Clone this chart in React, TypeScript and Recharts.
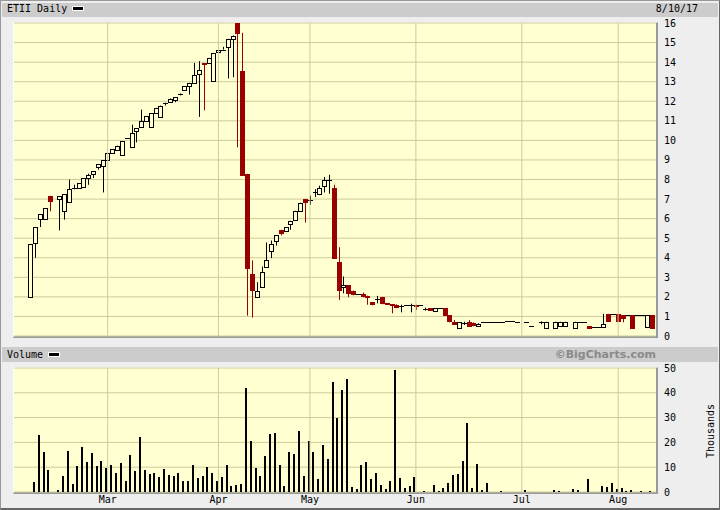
import React from "react";
import {
  Bar,
  CartesianGrid,
  ComposedChart,
  ReferenceLine,
  XAxis,
  YAxis,
} from "recharts";

// daily OHLC, Feb 6 – Aug 10 2017, one slot per trading day (null = no trade)
const OPEN = [
  2.0, 4.75, 5.97, 5.97, 7.17, null, 7.0, 6.38, 6.85, 7.56,
  7.56, 7.61, 8.07, 8.26, 8.64, 8.67, 8.98, 9.35, 9.52, 9.25,
  10.1, 9.66, 10.46, 10.68, 10.97, 10.68, 11.4, 11.2, 11.93, 11.97,
  12.08, 12.37, 12.6, 12.77, 12.94, 13.38, 13.95, 13.96, 13.04, 14.52,
  14.64, 14.76, 15.19, 16.0, 13.53, 8.29, 3.17, 1.98, 2.52, 3.55,
  4.37, 4.88, 5.43, 5.39, 5.72, 5.94, 6.38, 7.01, 6.96, 7.34,
  7.26, 7.67, 7.95, 7.59, 3.77, 2.49, 2.61, 2.32, 2.13, 2.15,
  2.06, 1.74, 1.88, 2.0, 1.67, 1.64, 1.6, 1.54, 1.6, 1.6,
  1.6, 1.6, 1.37, 1.43, 1.3, 1.43, 1.43, 1.06, 0.73, 0.39,
  0.65, 0.7, 0.65, 0.5, 0.73, 0.74, 0.74, 0.72, 0.71, 0.76,
  0.76, 0.73, null, 0.73, 0.51, null, 0.73, 0.39, null, 0.39,
  0.51, 0.51, null, 0.39, 0.73, 0.73, 0.51, 0.48, 0.48, 0.48,
  1.13, 1.13, 1.13, 1.06, 1.06, 1.06, 1.06, 1.06, 0.48, 1.06,
];
const HIGH = [
  4.7, 5.57, 6.23, 6.54, 7.17, null, 7.15, 7.26, 8.0, 7.73,
  7.82, 8.07, 8.3, 8.43, 8.79, 9.0, 9.35, 9.56, 9.73, 9.97,
  10.12, 10.8, 10.63, 11.57, 11.25, 11.4, 11.66, 11.78, 11.93, 12.14,
  12.2, 12.4, 12.78, 12.94, 13.96, 14.05, 13.95, 14.22, 14.47, 14.63,
  14.78, 15.19, 15.36, 16.0, 15.5, 8.29, 3.86, 2.75, 3.55, 4.78,
  4.88, 5.16, 5.43, 5.57, 5.89, 6.4, 6.81, 7.01, 7.18, 7.51,
  7.68, 8.13, 8.24, 7.73, 4.54, 3.04, 2.61, 2.32, 2.13, 2.22,
  2.06, 1.74, 2.05, 2.0, 1.67, 1.64, 1.62, 1.6, 1.6, 1.65,
  1.6, 1.6, 1.45, 1.43, 1.43, 1.43, 1.43, 1.06, 0.82, 0.7,
  0.73, 0.82, 0.7, 0.65, 0.73, 0.74, 0.74, 0.72, 0.71, 0.77,
  0.77, 0.73, null, 0.73, 0.51, null, 0.75, 0.73, null, 0.73,
  0.73, 0.73, null, 0.73, 0.73, 0.73, 0.51, 0.48, 0.48, 1.13,
  1.13, 1.13, 1.13, 1.06, 1.06, 1.06, 1.06, 1.06, 1.06, 1.06,
];
const LOW = [
  2.0, 4.0, 5.57, 5.97, 6.37, null, 5.4, 5.95, 6.85, 7.5,
  7.56, 7.61, 7.73, 8.07, 8.5, 7.34, 8.98, 9.35, 9.52, 9.25,
  10.08, 9.66, 9.9, 10.68, 10.97, 10.68, 11.4, 11.2, 11.78, 11.97,
  11.95, 12.3, 12.55, 12.34, 12.94, 11.2, 11.54, 13.96, 13.04, 14.52,
  14.64, 13.16, 13.23, 9.64, 8.19, 1.04, 0.94, 1.98, 2.52, 3.55,
  3.98, 4.62, 5.14, 5.39, 5.43, 5.94, 6.38, 5.8, 6.71, 7.1,
  7.26, 7.34, 7.27, 3.94, 1.84, 2.18, 1.98, 2.08, 2.13, 1.98,
  1.6, 1.57, 1.67, 1.62, 1.6, 1.16, 1.42, 1.21, 1.6, 1.21,
  1.33, 1.6, 1.3, 1.3, 1.3, 1.43, 1.02, 0.7, 0.56, 0.39,
  0.56, 0.48, 0.5, 0.5, 0.73, 0.74, 0.74, 0.72, 0.71, 0.74,
  0.74, 0.73, null, 0.73, 0.51, null, 0.6, 0.39, null, 0.39,
  0.51, 0.51, null, 0.39, 0.73, 0.73, 0.37, 0.48, 0.48, 0.48,
  0.73, 1.13, 0.73, 0.7, 1.06, 0.38, 1.06, 1.06, 0.48, 0.38,
];
const CLOSE = [
  4.7, 5.57, 6.23, 6.54, 6.83, null, 7.15, 7.26, 7.51, 7.56,
  7.82, 8.07, 8.24, 8.43, 8.79, 9.0, 9.35, 9.56, 9.73, 9.97,
  10.1, 10.38, 10.63, 10.99, 11.25, 11.4, 11.66, 11.78, 11.93, 12.14,
  12.2, 12.37, 12.78, 12.94, 13.36, 13.6, 13.92, 14.22, 14.47, 14.63,
  14.64, 15.19, 15.36, 15.43, 8.19, 3.43, 2.32, 2.3, 3.26, 3.89,
  4.71, 5.16, 5.22, 5.57, 5.89, 6.4, 6.81, 6.79, 6.96, 7.34,
  7.56, 7.99, 7.95, 3.94, 2.32, 2.63, 2.15, 2.08, 2.13, 1.98,
  1.95, 1.57, 1.88, 1.62, 1.6, 1.58, 1.42, 1.54, 1.6, 1.6,
  1.48, 1.6, 1.37, 1.3, 1.43, 1.43, 1.02, 0.7, 0.56, 0.7,
  0.65, 0.48, 0.52, 0.62, 0.73, 0.74, 0.74, 0.72, 0.71, 0.76,
  0.76, 0.73, null, 0.73, 0.51, null, 0.73, 0.73, null, 0.73,
  0.73, 0.73, null, 0.73, 0.73, 0.73, 0.37, 0.48, 0.48, 0.61,
  0.73, 1.13, 0.73, 0.89, 1.06, 0.38, 1.06, 1.06, 1.06, 0.38,
];
// thousands of shares
const VOLUME = [
  0, 4.2, 22.9, 16, 8.7, null, 0.9, 6.6, 16.4, 3.4,
  10.3, 18, 11.9, 15.6, 10.3, 12.7, 9.5, 10.7, 7.8, 11.5,
  4.6, 14.8, 8.3, 22, 8.7, 7.4, 7.8, 6.2, 9.1, 7,
  6.6, 7.8, 4.6, 4.6, 10.7, 5.8, 6.6, 9.9, 7.8, 4.6,
  6.2, 10.7, 2.6, 3.0, 3.4, 42, 20.4, 9.5, 6.6, 14.4,
  23.3, 23.7, 10.7, 2.6, 16, 15.2, 24.5, 6.6, 20.4, 16,
  5.4, 18.8, 13.5, 44.4, 29.8, 41.2, 45.6, 2.2, 1.4, 10.7,
  11.9, 5.4, 7.8, 3.0, 1.4, 4.6, 49.3, 5.8, 1.8, 2.6,
  6.2, 0, 0.5, 0, 3.0, 0.5, 1.8, 3.8, 7, 7.4,
  12.3, 27.8, 1.8, 11.1, 0.9, 3.8, 0, 0, 0.5, 0,
  0, 0, null, 0.9, 0, null, 0, 0, null, 0.9,
  0.5, 0, null, 1.4, 0.9, 0, 5.4, 0, 0, 2.6,
  2.2, 3.8, 1.4, 1.8, 0.5, 0.9, 0, 0.5, 0, 0.5,
];

// first trading day of each month (slot index) and its label
const MONTH_TICKS = [16, 39, 58, 80, 102, 122];
const MONTH_LABELS = ["Mar", "Apr", "May", "Jun", "Jul", "Aug"];
const PRICE_TICKS = [0, 1, 2, 3, 4, 5, 6, 7, 8, 9, 10, 11, 12, 13, 14, 15, 16];
const VOLUME_TICKS = [0, 10, 20, 30, 40, 50];

const data = OPEN.map((open, i) => ({
  day: i,
  open,
  high: HIGH[i],
  low: LOW[i],
  close: CLOSE[i],
  vol: VOLUME[i],
}));

const MONO = "'DejaVu Sans Mono', monospace";
const RED = "#990000";
const GRID = "#cccc99";
const PLOT_BG = "#ffffd2";
const PANEL = "#cccccc";
const X_DOMAIN: [number, number] = [-3.45, 129.86];

function Candle(props: any) {
  const { x, y, width, height, payload } = props;
  if (!payload || payload.high == null || !height) return <g />;
  const k = height / payload.high; // px per dollar
  const py = (v: number) => y + (payload.high - v) * k;
  const cx = Math.round(x + width / 2) + 0.5;
  const yH = py(payload.high);
  const yL = py(payload.low);
  const yO = Math.round(py(payload.open));
  const yC = Math.round(py(payload.close));
  const up = payload.close > payload.open;
  const down = payload.close < payload.open;
  const color = down ? RED : "#000";
  return (
    <g>
      {yL - yH > 0.5 && (
        <line x1={cx} x2={cx} y1={yH} y2={yL} stroke={color} strokeWidth={1} />
      )}
      {up && (
        <rect
          x={cx - 2}
          y={yC + 0.5}
          width={4}
          height={Math.max(yO - yC, 1)}
          fill={PLOT_BG}
          stroke="#000"
          strokeWidth={1}
        />
      )}
      {down && (
        <rect
          x={cx - 2.5}
          y={yO}
          width={5}
          height={Math.max(yC - yO, 2)}
          fill={RED}
        />
      )}
      {!up && !down && (
        <line x1={cx - 2.5} x2={cx + 2.5} y1={yO + 0.5} y2={yO + 0.5} stroke="#000" strokeWidth={1} />
      )}
    </g>
  );
}

function VolumeBar(props: any) {
  const { x, y, width, height } = props;
  if (!height || height <= 0) return <g />;
  const c = Math.round(x + width / 2);
  const top = Math.round(y);
  const bottom = Math.round(y + height);
  return <rect x={c - 2} y={top} width={2} height={bottom - top} fill="#000" />;
}

function Swatch({ left, top }: { left: number; top: number }) {
  return (
    <div
      style={{
        position: "absolute",
        left,
        top,
        width: 10,
        height: 3,
        background: "#000",
        border: "1px solid #fff",
      }}
    />
  );
}

const label: React.CSSProperties = {
  position: "absolute",
  fontFamily: MONO,
  fontSize: 10,
  lineHeight: "10px",
  color: "#000",
  whiteSpace: "nowrap",
};

const frame = (top: number, height: number): React.CSSProperties => ({
  position: "absolute",
  left: 13,
  top,
  width: 642,
  height,
  borderTop: "1px solid #fff",
  borderLeft: "1px solid #fff",
  borderRight: "2px solid #9a9a9a",
  borderBottom: "2px solid #9a9a9a",
});

const tickStyle = { fill: "#000", fontSize: 10, fontFamily: MONO };

export default function App() {
  return (
    <div
      style={{
        position: "absolute",
        left: 0,
        top: 0,
        width: 720,
        height: 510,
        background: "#eeeeee",
        overflow: "hidden",
      }}
    >
      <div
        style={{
          position: "absolute",
          inset: 0,
          borderTop: "1px solid #999",
          borderLeft: "1px solid #999",
          borderRight: "1px solid #666",
          borderBottom: "2px solid #666",
        }}
      />
      {/* price header */}
      <div style={{ position: "absolute", left: 2, top: 3, width: 716, height: 14, background: PANEL }} />
      <div style={{ ...label, left: 7, top: 3.5 }}>ETII Daily</div>
      <Swatch left={72} top={6} />
      <div style={{ ...label, left: 598, width: 100, textAlign: "right", top: 3.5 }}>8/10/17</div>

      <div style={frame(22, 313)} />
      <div style={{ position: "absolute", left: 0, top: 0 }}>
        <ComposedChart
          width={720}
          height={345}
          data={data}
          margin={{ top: 23, right: 14, bottom: 9, left: 14 }}
        >
          <CartesianGrid stroke={GRID} vertical={false} fill={PLOT_BG} />
          <XAxis type="number" dataKey="day" domain={X_DOMAIN} allowDataOverflow hide />
          <YAxis
            orientation="right"
            width={50}
            domain={[0, 16]}
            ticks={PRICE_TICKS}
            interval={0}
            allowDataOverflow
            axisLine={false}
            tickLine={false}
            tick={tickStyle}
          />
          {MONTH_TICKS.map((t) => (
            <ReferenceLine key={t} x={t} stroke={GRID} strokeWidth={1} />
          ))}
          <Bar dataKey="high" barSize={5} shape={Candle} isAnimationActive={false} />
        </ComposedChart>
      </div>

      {/* volume header */}
      <div style={{ position: "absolute", left: 2, top: 347, width: 716, height: 15, background: PANEL }} />
      <div style={{ ...label, left: 7, top: 350 }}>Volume</div>
      <Swatch left={48} top={352} />
      <div
        style={{
          ...label,
          left: 456,
          width: 200,
          textAlign: "right",
          top: 349,
          fontFamily: "'DejaVu Sans', sans-serif",
          fontWeight: "bold",
          fontSize: 11,
          lineHeight: "11px",
          color: "#8a8a8a",
        }}
      >
        ©BigCharts.com
      </div>

      <div style={frame(367, 124)} />
      <div style={{ position: "absolute", left: 0, top: 340 }}>
        <ComposedChart
          width={720}
          height={170}
          data={data}
          margin={{ top: 28, right: 14, bottom: 0, left: 14 }}
        >
          <CartesianGrid stroke={GRID} vertical={false} fill={PLOT_BG} />
          <XAxis
            type="number"
            dataKey="day"
            domain={X_DOMAIN}
            allowDataOverflow
            ticks={MONTH_TICKS}
            interval={0}
            tickFormatter={(v: number) => MONTH_LABELS[MONTH_TICKS.indexOf(v)]}
            axisLine={false}
            tickLine={false}
            tickSize={4}
            tickMargin={0}
            height={18}
            tick={tickStyle}
          />
          <YAxis
            orientation="right"
            width={50}
            domain={[0, 50]}
            ticks={VOLUME_TICKS}
            interval={0}
            allowDataOverflow
            axisLine={false}
            tickLine={false}
            tick={tickStyle}
          />
          {MONTH_TICKS.map((t) => (
            <ReferenceLine key={t} x={t} stroke={GRID} strokeWidth={1} />
          ))}
          <Bar dataKey="vol" barSize={2} shape={VolumeBar} isAnimationActive={false} />
        </ComposedChart>
      </div>
      <div
        style={{
          ...label,
          left: 681,
          top: 425,
          width: 60,
          height: 12,
          lineHeight: "12px",
          textAlign: "center",
          transform: "rotate(-90deg)",
        }}
      >
        Thousands
      </div>
    </div>
  );
}
